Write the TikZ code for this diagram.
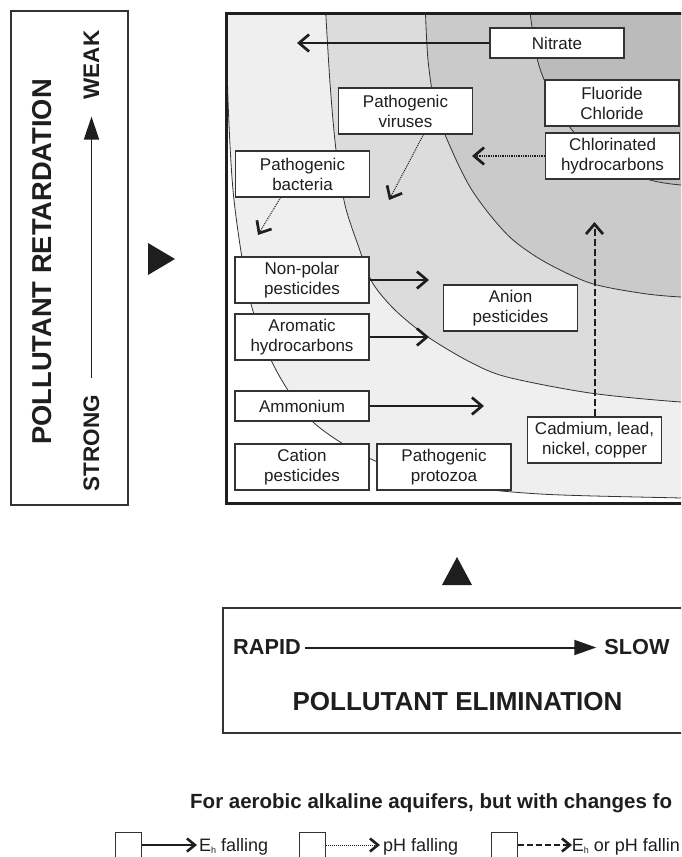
\documentclass[tikz,border=0pt]{standalone}
\usepackage{fontspec}
\setmainfont{Liberation Sans}
\usetikzlibrary{arrows.meta}

\definecolor{ink}{HTML}{1E1E1E}
\definecolor{boxline}{HTML}{333333}
\definecolor{zoneA}{HTML}{EFEFEF}
\definecolor{zoneB}{HTML}{DCDCDC}
\definecolor{zoneC}{HTML}{CACACA}
\definecolor{zoneD}{HTML}{BBBBBB}

% small subscript h used for the redox potential E_h
\newcommand{\redoxsub}{\raisebox{-2pt}{\fontsize{9}{9}\selectfont h}}

\begin{document}
\begin{tikzpicture}[x=1pt,y=-1pt,
  every node/.style={text=ink},
  item/.style={draw=boxline, line width=1.1pt, fill=white, minimum width=134pt,
    minimum height=46pt, inner sep=0pt, align=center,
    font=\fontsize{17}{20}\selectfont},
  itemone/.style={item, minimum height=30pt},
  zoneline/.style={draw=boxline, line width=0.8pt},
  barb/.style={-{Straight Barb[length=10pt,width=17pt,line width=2.7pt]}},
  solidarrow/.style={barb, draw=ink, line width=2.4pt},
  dotarrow/.style={barb, draw=ink, line width=1pt, dash pattern=on 1pt off 1pt},
  thickdotarrow/.style={barb, draw=ink, line width=2.2pt, dash pattern=on 1.3pt off 1pt},
  dasharrow/.style={barb, draw=ink, line width=2pt, dash pattern=on 7pt off 3pt},
  legbarb/.style={-{Straight Barb[length=8pt,width=13pt,line width=2.6pt]}},
  legbox/.style={draw=boxline, line width=1pt, fill=white, minimum width=26pt,
    minimum height=26pt, inner sep=0pt},
  legtext/.style={anchor=base west, inner sep=0pt, font=\fontsize{18}{18}\selectfont},
  heading/.style={inner sep=0pt, font=\bfseries\fontsize{27.3}{27.3}\selectfont},
  endlabel/.style={inner sep=0pt, font=\bfseries\fontsize{22.5}{22.5}\selectfont},
]
\useasboundingbox (0,0) rectangle (681,857);
\clip (0,0) rectangle (681,857);

% ---------- left panel: retardation ----------
\draw[boxline, line width=2pt] (11,11) rectangle (128,505);
\node[heading, rotate=90] (retard) at (42.5,262) {POLLUTANT RETARDATION};
\node[endlabel, rotate=90] (strong) at (91.5,443) {STRONG};
\node[endlabel, rotate=90] (weak) at (91.5,65) {WEAK};
\draw[ink, line width=1.8pt, -{Triangle[length=23pt,width=15pt]},
  shorten <=17pt, shorten >=17pt] (strong.east) -- (weak.west);
\fill[ink] (148,243) -- (175,259) -- (148,275) -- cycle;

% ---------- main panel: shaded zones ----------
\begin{scope}
  \clip (226,13) rectangle (760,503);
  \filldraw[fill=zoneA, zoneline] plot[smooth] coordinates {
    (226.5,0) (228,100) (234,200) (250,300) (275,368) (313,422) (373,460)
    (450,484) (540,494) (681,498) (760,500)} -- (760,0) -- cycle;
  \filldraw[fill=zoneB, zoneline] plot[smooth] coordinates {
    (325,0) (330,83) (336,150) (345,205) (358,245) (372,282) (395,310)
    (428,337) (470,362) (507,377) (590,393) (681,402) (760,405)} -- (760,0) -- cycle;
  \filldraw[fill=zoneC, zoneline] plot[smooth] coordinates {
    (425,0) (428,60) (436,110) (453,153) (470,187) (490,215) (513,240)
    (545,262) (590,283) (640,293) (681,297) (760,300)} -- (760,0) -- cycle;
  \filldraw[fill=zoneD, zoneline] plot[smooth] coordinates {
    (529,0) (531,20) (537,58) (545,82) (557,106) (572,130) (595,152)
    (620,169) (650,180) (681,185) (760,190)} -- (760,0) -- cycle;
\end{scope}
\draw[ink, line width=3pt] (226,13) rectangle (760,503);

% ---------- pollutant boxes ----------
\node[itemone] (nitrate)     at (557,43)    {Nitrate};
\node[item]    (viruses)     at (405.5,111) {Pathogenic\\viruses};
\node[item]    (fluoride)    at (612,103)   {Fluoride\\Chloride};
\node[item]    (chlorinated) at (612.5,156) {Chlorinated\\hydrocarbons};
\node[item]    (bacteria)    at (302.5,174) {Pathogenic\\bacteria};
\node[item]    (nonpolar)    at (302,280)   {Non-polar\\pesticides};
\node[item]    (aromatic)    at (302,337)   {Aromatic\\hydrocarbons};
\node[item]    (anion)       at (510.5,308) {Anion\\pesticides};
\node[itemone] (ammonium)    at (302,406)   {Ammonium};
\node[item]    (cadmium)     at (594.5,440) {Cadmium, lead,\\nickel, copper};
\node[item]    (cation)      at (302,467)   {Cation\\pesticides};
\node[item]    (protozoa)    at (444,467)   {Pathogenic\\protozoa};

% ---------- movement arrows ----------
\coordinate (nitrateTip)  at (297,43);
\coordinate (virusTip)    at (389,200);
\coordinate (bacteriaTip) at (258,235);
\coordinate (chlorTip)    at (472,156);
\coordinate (nonpolarTip) at (429,280);
\coordinate (aromaticTip) at (429,337);
\coordinate (ammoniumTip) at (484,406);
\coordinate (cadmiumTip)  at (594.5,222);

\draw[solidarrow] (nitrate.west) -- (nitrateTip);
\draw[dotarrow] ([xshift=18pt]viruses.south) -- (virusTip);
\draw[dotarrow] ([xshift=-22pt]bacteria.south) -- (bacteriaTip);
\draw[thickdotarrow] (chlorinated.west) -- (chlorTip);
\draw[solidarrow] (nonpolar.east) -- (nonpolarTip);
\draw[solidarrow] (aromatic.east) -- (aromaticTip);
\draw[solidarrow] (ammonium.east) -- (ammoniumTip);
\draw[dasharrow] (cadmium.north) -- (cadmiumTip);

% ---------- bottom panel: elimination ----------
\fill[ink] (442,585) -- (457,557) -- (472,585) -- cycle;
\draw[boxline, line width=1.8pt] (223,608) rectangle (760,733);
\node[endlabel, font=\bfseries\fontsize{21.7}{21.7}\selectfont] (rapid) at (267,647.5) {RAPID};
\node[endlabel, font=\bfseries\fontsize{21.7}{21.7}\selectfont] (slow) at (637,647.5) {SLOW};
\draw[ink, line width=2pt, -{Triangle[length=22pt,width=15pt]},
  shorten <=4pt, shorten >=8pt] (rapid.east) -- (slow.west);
\node[heading, font=\bfseries\fontsize{26}{26}\selectfont] (elim) at (457.5,702) {POLLUTANT ELIMINATION};

% ---------- legend ----------
\node[anchor=base west, inner sep=0pt, font=\bfseries\fontsize{20.5}{20.5}\selectfont]
  (legtitle) at (190,808) {For aerobic alkaline aquifers, but with changes fo};

\node[legbox] (lbox1) at (128,845) {};
\coordinate (ltip1) at (197,845);
\draw[legbarb, draw=ink, line width=2.2pt] (lbox1.east) -- (ltip1);
\node[legtext] (ltext1) at (199,851.5) {E\redoxsub{} falling};

\node[legbox] (lbox2) at (312.5,845) {};
\coordinate (ltip2) at (380,845);
\draw[legbarb, draw=ink, line width=1pt, dash pattern=on 1pt off 1pt] (lbox2.east) -- (ltip2);
\node[legtext] (ltext2) at (383,851.5) {pH falling};

\node[legbox] (lbox3) at (504,845) {};
\coordinate (ltip3) at (572,845);
\draw[legbarb, draw=ink, line width=1.8pt, dash pattern=on 6pt off 3pt] (lbox3.east) -- (ltip3);
\node[legtext, anchor=base east] (ltext3) at (680,851.5) {E\redoxsub{} or pH fallin};
\end{tikzpicture}
\end{document}
